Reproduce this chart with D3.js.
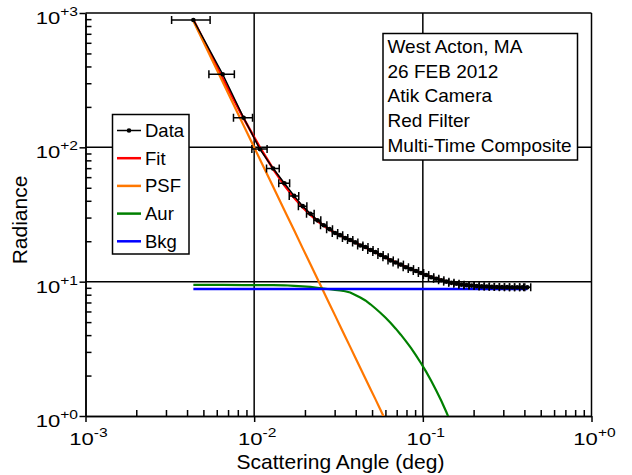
<!DOCTYPE html>
<html>
<head>
<meta charset="utf-8">
<script src="https://cdn.jsdelivr.net/npm/d3@7"></script>
<style>
  body { margin: 0; background: #fff; }
  svg { display: block; font-family: "Liberation Sans", Arial, sans-serif; }
</style>
</head>
<body>
<svg id="chart" width="632" height="475"></svg>
<script>
// Radial profile: scattering angle (deg) vs radiance, with fitted components
const angle = [0.00436, 0.00651, 0.00866, 0.01081, 0.01296, 0.01511, 0.01726, 0.01941, 0.02156, 0.02371,
  0.02586, 0.02801, 0.03016, 0.03232, 0.03463, 0.03710, 0.03976, 0.04260, 0.04565, 0.04891,
  0.05241, 0.05616, 0.06017, 0.06448, 0.06909, 0.07403, 0.07932, 0.08499, 0.09107, 0.09758,
  0.10456, 0.11204, 0.12005, 0.12863, 0.13783, 0.14769, 0.15825, 0.16956, 0.18169, 0.19468,
  0.20860, 0.22351, 0.23950, 0.25662, 0.27497, 0.29463, 0.31570, 0.33827, 0.36246, 0.38837, 0.41614];

const angleErr = [0.00112, 0.00112, 0.00112, 0.00112, 0.00112, 0.00112, 0.00112, 0.00112, 0.00112, 0.00112,
  0.00112, 0.00112, 0.00112, 0.00116, 0.00125, 0.00134, 0.00143, 0.00153, 0.00164, 0.00176,
  0.00189, 0.00202, 0.00217, 0.00232, 0.00249, 0.00267, 0.00286, 0.00306, 0.00328, 0.00351,
  0.00376, 0.00403, 0.00432, 0.00463, 0.00496, 0.00532, 0.0057, 0.0061, 0.00654, 0.00701,
  0.00751, 0.00805, 0.00862, 0.00924, 0.0099, 0.0106, 0.01137, 0.01218, 0.01305, 0.01398, 0.02];

const radiance = [888, 350, 166, 97, 69.5, 54, 43.5, 36.5, 32, 28.6,
  26.3, 24.6, 23.0, 22.2, 21.1, 20.4, 19.6, 18.6, 18.1, 17.2,
  16.6, 15.8, 15.2, 14.4, 13.9, 13.4, 12.8, 12.4, 12.0, 11.6,
  11.2, 10.8, 10.5, 10.25, 10.0, 9.8, 9.65, 9.5, 9.42, 9.35,
  9.27, 9.22, 9.2, 9.15, 9.12, 9.1, 9.1, 9.08, 9.08, 9.07, 9.07];

const fit = [891, 325, 164, 99.9, 69.0, 52.2, 42.2, 35.7, 31.5, 28.3,
  26.1, 24.4, 23.1, 22.1, 21.2, 20.4, 19.5, 18.7, 18.0, 17.2,
  16.5, 15.8, 15.1, 14.5, 13.9, 13.4, 12.9, 12.4, 12.0, 11.6,
  11.2, 10.85, 10.55, 10.28, 10.03, 9.82, 9.66, 9.53, 9.42, 9.34,
  9.27, 9.22, 9.18, 9.15, 9.13, 9.11, 9.10, 9.09, 9.09, 9.08, 9.08];

// point-spread component (first 25 angles)
const psf = [873, 306.6, 145.6, 81.6, 50.8, 34.0, 24.1, 17.7, 13.5, 10.5,
  8.38, 6.80, 5.61, 4.68, 3.91, 3.27, 2.73, 2.28, 1.90, 1.59,
  1.33, 1.11, 0.92, 0.77, 0.64];

// aureole component (first 37 angles)
const aur = [9.45, 9.45, 9.44, 9.43, 9.42, 9.40, 9.29, 9.21, 9.14, 9.01,
  8.88, 8.78, 8.69, 8.59, 8.48, 8.31, 7.97, 7.62, 7.25, 6.79,
  6.31, 5.85, 5.38, 4.92, 4.47, 4.03, 3.61, 3.21, 2.83, 2.47,
  2.14, 1.83, 1.55, 1.30, 1.07, 0.87, 0.70];

// flat sky background
const bkgAngle = [0.00436, 0.41614];
const bkg = [8.82, 8.82];

const xTicks = [0.001, 0.01, 0.1, 1];
const xTickExp = ["-3", "-2", "-1", "+0"];
const yTicks = [1, 10, 100, 1000];
const yTickExp = ["+0", "+1", "+2", "+3"];

const legendNames = ["Data", "Fit", "PSF", "Aur", "Bkg"];
const legendColors = ["#000000", "#ff0000", "#ff7700", "#008000", "#0000ff"];
const infoLines = ["West Acton, MA", "26 FEB 2012", "Atik Camera", "Red Filter", "Multi-Time Composite"];

const svg = d3.select("#chart");
const L = 85.5, R = 591.5, T = 13, B = 416;
const x = d3.scaleLog().domain([1e-3, 1]).range([L, R]);
const y = d3.scaleLog().domain([1, 1000]).range([B, T]);

svg.append("defs").append("clipPath").attr("id", "plotClip")
  .append("rect").attr("x", L).attr("y", T).attr("width", R - L).attr("height", B - T);

// decade grid
const grid = svg.append("g").attr("stroke", "#000").attr("stroke-width", 1.5);
grid.selectAll(".gx").data([0.01, 0.1]).join("line")
  .attr("x1", d => x(d)).attr("x2", d => x(d)).attr("y1", T).attr("y2", B);
grid.selectAll(".gy").data([10, 100]).join("line")
  .attr("y1", d => y(d)).attr("y2", d => y(d)).attr("x1", L).attr("x2", R);
// frame top/right
grid.append("line").attr("x1", L).attr("x2", R).attr("y1", T).attr("y2", T);
grid.append("line").attr("x1", R).attr("x2", R).attr("y1", T).attr("y2", B);

// minor ticks (inward) and major ticks (outward)
function minorValues(lo, hi) {
  const out = [];
  for (let p = lo; p < hi; p++) for (let m = 2; m <= 9; m++) out.push(m * Math.pow(10, p));
  return out;
}
const axStyle = g => {
  g.select(".domain").attr("stroke-width", 1.5);
  g.selectAll(".tick line").attr("stroke-width", 1.5);
  g.selectAll(".tick text").remove();
};
svg.append("g").attr("transform", `translate(0,${B})`)
  .call(d3.axisBottom(x).tickValues(minorValues(-3, 0)).tickSizeInner(-6).tickSizeOuter(0))
  .call(axStyle);
svg.append("g").attr("transform", `translate(0,${B})`)
  .call(d3.axisBottom(x).tickValues(xTicks).tickSizeInner(6).tickSizeOuter(0))
  .call(axStyle);
svg.append("g").attr("transform", `translate(${L},0)`)
  .call(d3.axisLeft(y).tickValues(minorValues(0, 3)).tickSizeInner(-6).tickSizeOuter(0))
  .call(axStyle);
svg.append("g").attr("transform", `translate(${L},0)`)
  .call(d3.axisLeft(y).tickValues(yTicks).tickSizeInner(6).tickSizeOuter(0))
  .call(axStyle);

// tick labels with superscript exponents (wide digit face)
function powLabel(g, exp) {
  const t = g.append("text");
  t.append("tspan").text("10");
  t.append("tspan").attr("dy", -8).attr("font-size", 12).text(exp);
  return t;
}
const xl = svg.append("g").attr("font-size", 17).attr("text-anchor", "middle");
xTicks.forEach((v, i) => {
  powLabel(xl, xTickExp[i]).attr("transform", `translate(${x(v) + 3},${B + 29}) scale(1.3,1)`);
});
const yl = svg.append("g").attr("font-size", 17).attr("text-anchor", "end");
yTicks.forEach((v, i) => {
  powLabel(yl, yTickExp[i]).attr("transform", `translate(78,${y(v) + 11}) scale(1.3,1)`);
});

// axis titles
svg.append("text").attr("x", (L + R) / 2 + 2).attr("y", 468.5).attr("text-anchor", "middle")
  .attr("font-size", 21).text("Scattering Angle (deg)");
svg.append("text").attr("transform", `translate(27,220) rotate(-90)`)
  .attr("text-anchor", "middle").attr("font-size", 21).text("Radiance");

// curves
const line = d3.line().x(d => x(d[0])).y(d => y(d[1]));
const plot = svg.append("g").attr("clip-path", "url(#plotClip)").attr("fill", "none");
plot.append("path").datum(d3.zip(angle, fit)).attr("d", line)
  .attr("stroke", legendColors[1]).attr("stroke-width", 2.5);
plot.append("path").datum(d3.zip(angle.slice(0, psf.length), psf)).attr("d", line)
  .attr("stroke", legendColors[2]).attr("stroke-width", 2.2);
plot.append("path").datum(d3.zip(angle.slice(0, aur.length), aur)).attr("d", line)
  .attr("stroke", legendColors[3]).attr("stroke-width", 2.2);
plot.append("path").datum(d3.zip(bkgAngle, bkg)).attr("d", line)
  .attr("stroke", legendColors[4]).attr("stroke-width", 2.5);

// data with horizontal error bars
const pts = d3.zip(angle, radiance, angleErr);
plot.append("path").datum(pts).attr("d", line).attr("stroke", "#000").attr("stroke-width", 1.5);
const eb = plot.append("g").attr("stroke", "#000").attr("stroke-width", 1.5);
eb.selectAll(".bar").data(pts).join("line")
  .attr("x1", d => x(d[0] - d[2])).attr("x2", d => x(d[0] + d[2]))
  .attr("y1", d => y(d[1])).attr("y2", d => y(d[1]));
eb.selectAll(".capL").data(pts).join("line")
  .attr("x1", d => x(d[0] - d[2])).attr("x2", d => x(d[0] - d[2]))
  .attr("y1", d => y(d[1]) - 4).attr("y2", d => y(d[1]) + 4);
eb.selectAll(".capR").data(pts).join("line")
  .attr("x1", d => x(d[0] + d[2])).attr("x2", d => x(d[0] + d[2]))
  .attr("y1", d => y(d[1]) - 4).attr("y2", d => y(d[1]) + 4);
plot.append("g").selectAll("circle").data(pts).join("circle")
  .attr("cx", d => x(d[0])).attr("cy", d => y(d[1])).attr("r", 2.3).attr("fill", "#000");

// legend
const lg = svg.append("g");
lg.append("rect").attr("x", 112.5).attr("y", 114.5).attr("width", 76.5).attr("height", 139.5)
  .attr("fill", "#fff").attr("stroke", "#000").attr("stroke-width", 1.5);
legendNames.forEach((n, i) => {
  const cy = 130.5 + i * 27.7;
  lg.append("line").attr("x1", 117).attr("x2", 141).attr("y1", cy).attr("y2", cy)
    .attr("stroke", legendColors[i]).attr("stroke-width", i === 0 ? 1.5 : 2.5);
  if (i === 0) lg.append("circle").attr("cx", 129).attr("cy", cy).attr("r", 2.3).attr("fill", "#000");
  lg.append("text").attr("x", 145).attr("y", cy + 6.5).attr("font-size", 18.5).text(n);
});

// info box
const ib = svg.append("g");
ib.append("rect").attr("x", 383).attr("y", 33.5).attr("width", 194.5).attr("height", 126.5)
  .attr("fill", "#fff").attr("stroke", "#000").attr("stroke-width", 1.5);
infoLines.forEach((s, i) => {
  ib.append("text").attr("x", 387.5).attr("y", 53 + i * 24.7).attr("font-size", 19).text(s);
});
</script>
</body>
</html>
